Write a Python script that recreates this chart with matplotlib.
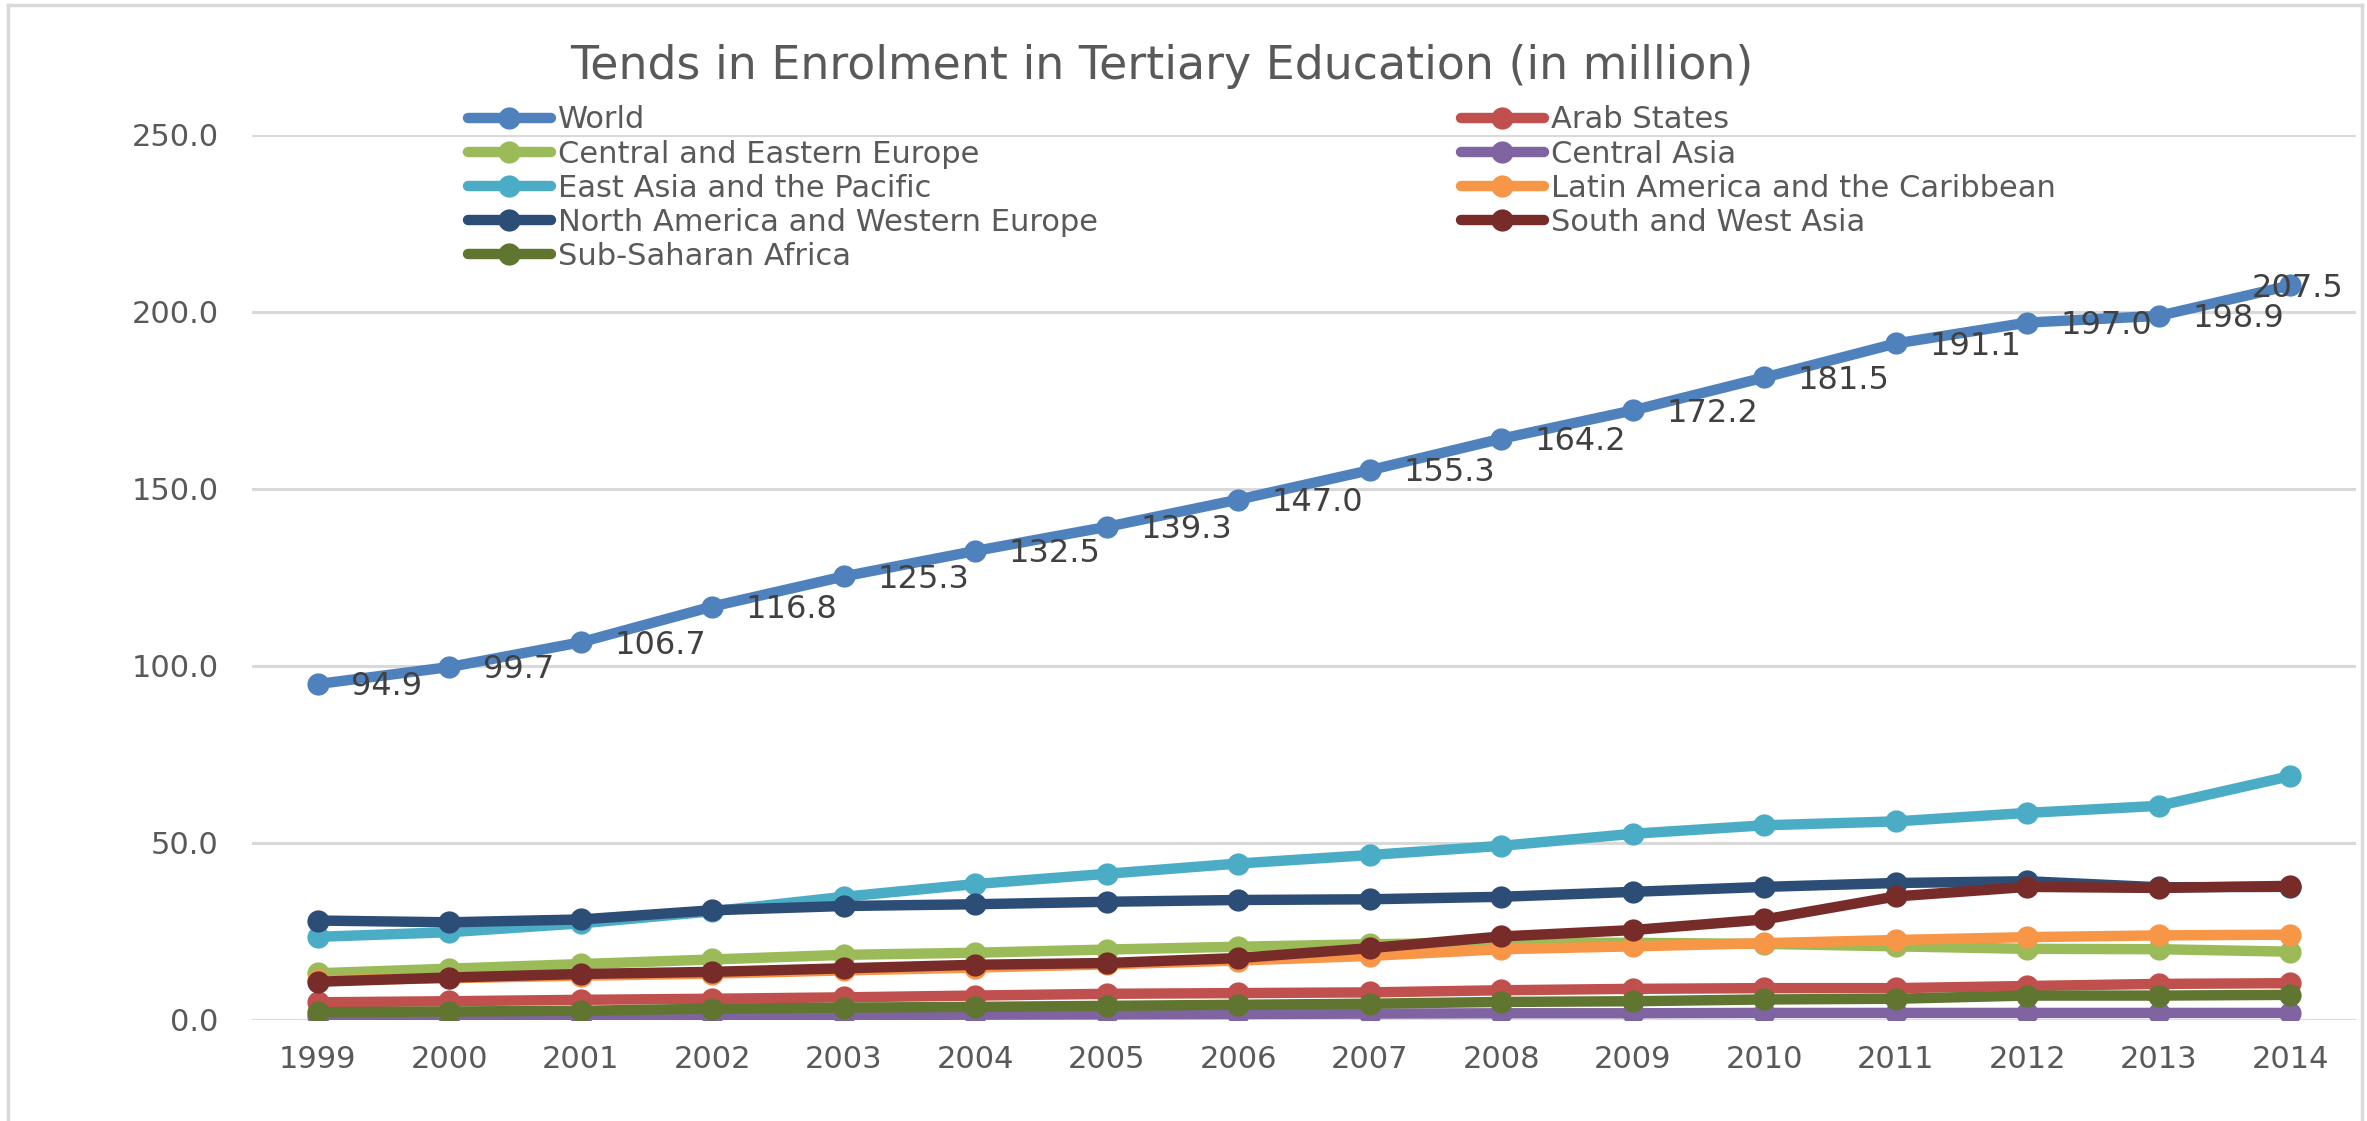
import matplotlib
matplotlib.use("Agg")
import matplotlib.pyplot as plt
from matplotlib.lines import Line2D

years = list(range(1999, 2015))

world = [94.9, 99.7, 106.7, 116.8, 125.3, 132.5, 139.3, 147.0, 155.3, 164.2, 172.2, 181.5, 191.1, 197.0, 198.9, 207.5]
arab = [5.0, 5.3, 5.7, 6.0, 6.4, 6.9, 7.4, 7.6, 7.8, 8.4, 8.8, 9.0, 9.0, 9.6, 10.2, 10.4]
cee = [13.2, 14.5, 15.8, 17.1, 18.4, 19.0, 19.9, 20.7, 21.4, 21.9, 21.8, 21.5, 20.8, 20.1, 20.0, 19.3]
casia = [1.1, 1.1, 1.2, 1.3, 1.4, 1.5, 1.6, 1.7, 1.8, 1.9, 1.9, 2.0, 2.0, 2.0, 2.0, 2.0]
eap = [23.5, 24.8, 27.3, 30.7, 34.8, 38.4, 41.3, 44.2, 46.6, 49.2, 52.6, 55.0, 56.1, 58.5, 60.5, 68.9]
lac = [11.2, 11.8, 12.5, 13.1, 14.0, 14.8, 15.7, 16.8, 18.1, 20.0, 20.8, 21.7, 22.6, 23.4, 23.9, 24.1]
nawe = [28.1, 27.6, 28.4, 31.0, 32.2, 32.7, 33.4, 33.9, 34.1, 34.8, 36.2, 37.6, 38.7, 39.2, 37.5, 37.6]
swa = [10.8, 12.0, 13.0, 13.6, 14.6, 15.6, 16.1, 17.5, 20.3, 23.6, 25.4, 28.4, 34.9, 37.6, 37.3, 37.9]
ssa = [2.2, 2.4, 2.6, 3.2, 3.5, 3.7, 4.0, 4.3, 4.6, 5.1, 5.3, 5.8, 6.0, 6.9, 6.9, 7.1]

names = ["World", "Arab States", "Central and Eastern Europe", "Central Asia",
         "East Asia and the Pacific", "Latin America and the Caribbean",
         "North America and Western Europe", "South and West Asia", "Sub-Saharan Africa"]
series = [world, arab, cee, casia, eap, lac, nawe, swa, ssa]
colors = ["#4F81BD", "#C0504D", "#9BBB59", "#8064A2", "#4BACC6",
          "#F79646", "#2C4D75", "#772C2A", "#5F7530"]

grid_col = "#D9D9D9"
text_col = "#595959"

fig = plt.figure(figsize=(23.67, 11.21), dpi=100)
ax = fig.add_axes([0.1065, 0.0901, 0.8889, 0.7895])

handles = []
for name, vals, c in zip(names, series, colors):
    h, = ax.plot(years, vals, color=c, lw=7.5, marker="o", ms=16,
                 markeredgewidth=0, label=name, solid_capstyle="round")
    handles.append(h)

# data labels on the World series
for i, (x, y) in enumerate(zip(years, world)):
    dx = 24 if i < len(years) - 1 else -28
    ax.annotate(f"{y:.1f}", (x, y), xytext=(dx, -2), textcoords="offset points",
                ha="left", va="center", fontsize=23, color="#404040")

ax.set_xlim(1998.5, 2014.5)
ax.set_ylim(0, 250)
ax.set_yticks([0, 50, 100, 150, 200, 250])
ax.set_yticklabels([f"{v:.1f}" for v in [0, 50, 100, 150, 200, 250]])
ax.set_xticks(years)
ax.set_xticklabels([str(y) for y in years])
ax.yaxis.grid(True, color=grid_col, lw=2.2)
ax.set_axisbelow(True)
for s in ax.spines.values():
    s.set_visible(False)
ax.tick_params(axis="both", length=0, labelsize=22, colors=text_col)
ax.tick_params(axis="y", pad=24)
ax.tick_params(axis="x", pad=18)

fig.text(0.491, 0.941, "Tends in Enrolment in Tertiary Education (in million)",
         ha="center", va="center", fontsize=33, color=text_col)

# legend laid out row-wise in two columns
left_col = [handles[i] for i in (0, 2, 4, 6, 8)]
right_col = [handles[i] for i in (1, 3, 5, 7)]
for hs, xpos in ((left_col, 468 / 2367), (right_col, 1461 / 2367)):
    fig.legend(handles=hs, loc="upper left", bbox_to_anchor=(xpos, 0.906),
               frameon=False, fontsize=22, handlelength=2.7, handletextpad=0.25,
               labelspacing=0.17, borderpad=0, borderaxespad=0, labelcolor=text_col)

# light frame around the chart
for xs, ys in (([8 / 2367, 8 / 2367], [0, 1 - 5 / 1121]),
               ([8 / 2367, 2362 / 2367], [1 - 5 / 1121, 1 - 5 / 1121]),
               ([2362 / 2367, 2362 / 2367], [0, 1 - 5 / 1121])):
    fig.add_artist(Line2D(xs, ys, color=grid_col, lw=2.5, transform=fig.transFigure))

fig.savefig("out.png", dpi=100, facecolor="white")
